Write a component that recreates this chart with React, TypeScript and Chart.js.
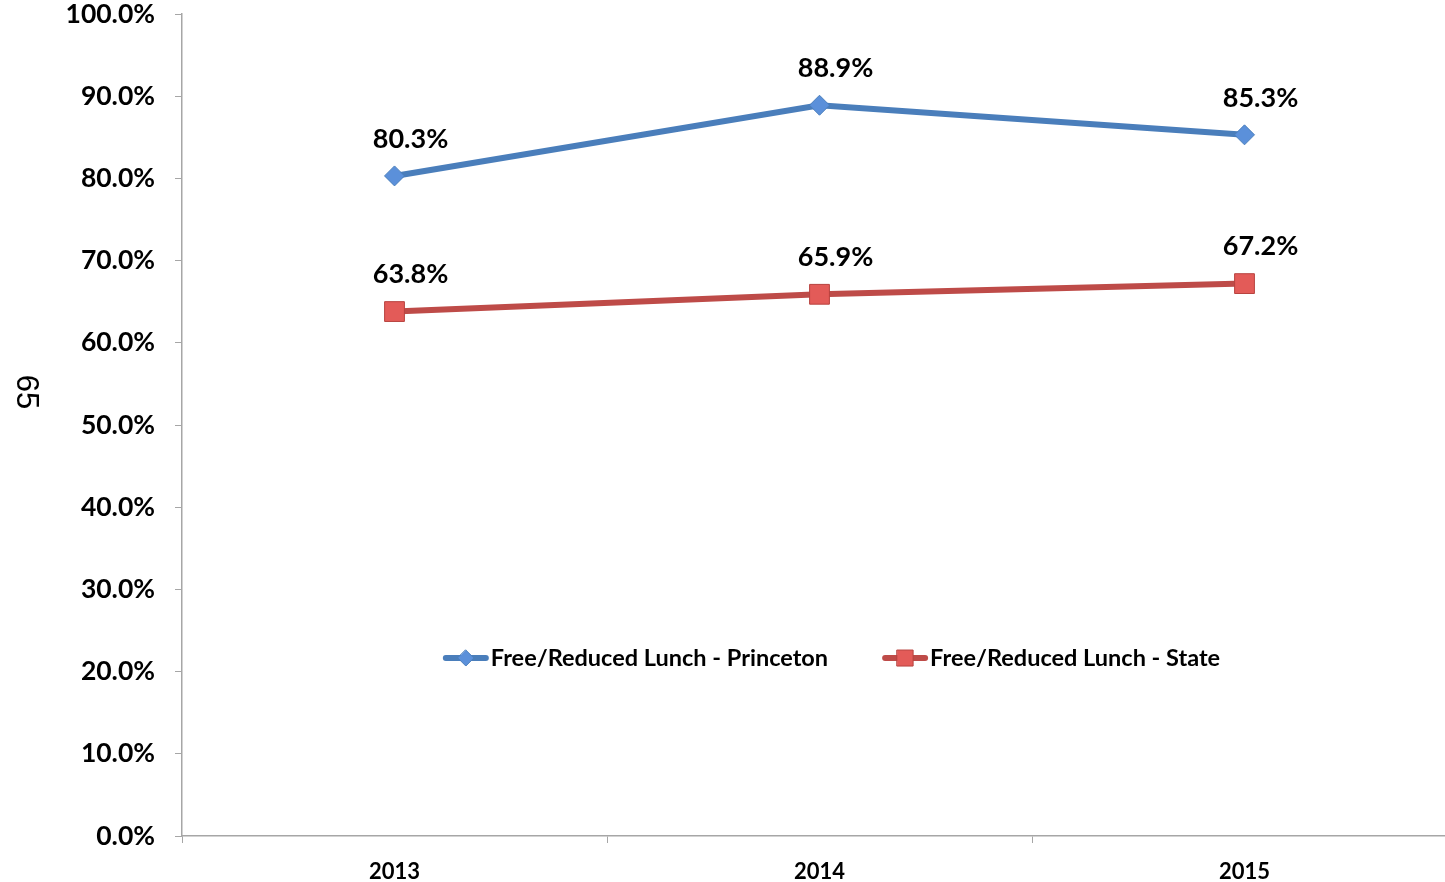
import React, { useEffect, useRef } from "react";
import { Chart, registerables } from "chart.js";

Chart.register(...registerables);

const years = ["2013", "2014", "2015"];
const princeton = [80.3, 88.9, 85.3];
const state = [63.8, 65.9, 67.2];
const seriesNames = ["Free/Reduced Lunch - Princeton", "Free/Reduced Lunch - State"];
const pageNumber = "65";

const FONT = "Lato, 'Open Sans', sans-serif";
const BLUE_LINE = "#4A7EBB";
const BLUE_FILL = "#5B90DA";
const RED_LINE = "#BE4B48";
const RED_FILL = "#E35B58";
const AXIS = "#A6A6A6";

const dataLabelPlugin = {
  id: "dataLabels",
  afterDatasetsDraw(chart: any) {
    const ctx = chart.ctx;
    ctx.save();
    ctx.font = `bold 27px ${FONT}`;
    ctx.fillStyle = "#000";
    ctx.textAlign = "center";
    ctx.textBaseline = "middle";
    chart.data.datasets.forEach((ds: any, i: number) => {
      const meta = chart.getDatasetMeta(i);
      meta.data.forEach((pt: any, j: number) => {
        ctx.fillText(ds.data[j].toFixed(1) + "%", pt.x + 16, pt.y - 37);
      });
    });
    ctx.restore();
  },
};

const legendPlugin = {
  id: "customLegend",
  afterDraw(chart: any) {
    const ctx = chart.ctx;
    const area = chart.chartArea;
    const y = chart.scales.y.getPixelForValue(21.65);
    ctx.save();
    ctx.font = `bold 23.5px ${FONT}`;
    ctx.textBaseline = "middle";
    ctx.textAlign = "left";
    const lineLen = 46;
    const gap = 2;
    const itemGap = 54;
    const widths = chart.data.datasets.map((ds: any) => ctx.measureText(ds.label).width);
    const total = widths.reduce((a: number, w: number) => a + lineLen + gap + w, 0) + itemGap * (widths.length - 1);
    let x = (area.left + area.right) / 2 + 12 - total / 2;
    chart.data.datasets.forEach((ds: any, i: number) => {
      ctx.strokeStyle = ds.borderColor;
      ctx.lineWidth = 6;
      ctx.lineCap = "round";
      ctx.beginPath();
      ctx.moveTo(x + 3, y);
      ctx.lineTo(x + lineLen - 3, y);
      ctx.stroke();
      ctx.fillStyle = ds.pointBackgroundColor;
      ctx.strokeStyle = ds.pointBorderColor;
      ctx.lineWidth = 1;
      const cx = x + lineLen / 2;
      ctx.beginPath();
      if (ds.pointStyle === "rectRot") {
        const r = 8;
        ctx.moveTo(cx, y - r);
        ctx.lineTo(cx + r, y);
        ctx.lineTo(cx, y + r);
        ctx.lineTo(cx - r, y);
        ctx.closePath();
      } else {
        const s = 8;
        ctx.rect(cx - s, y - s, 2 * s, 2 * s);
      }
      ctx.fill();
      ctx.stroke();
      ctx.fillStyle = "#000";
      ctx.fillText(ds.label, x + lineLen + gap, y);
      x += lineLen + gap + widths[i] + itemGap;
    });
    ctx.restore();
  },
};

const pageNumberPlugin = {
  id: "pageNumber",
  afterDraw(chart: any) {
    const ctx = chart.ctx;
    ctx.save();
    ctx.translate(26, 392);
    ctx.rotate(Math.PI / 2);
    ctx.font = `31px 'Liberation Sans', Arial, sans-serif`;
    ctx.fillStyle = "#000";
    ctx.textAlign = "center";
    ctx.textBaseline = "middle";
    ctx.fillText(pageNumber, 0, 0);
    ctx.restore();
  },
};

export default function App() {
  const ref = useRef<HTMLCanvasElement>(null);
  useEffect(() => {
    if (!ref.current) return;
    const chart = new Chart(ref.current, {
      type: "line",
      data: {
        labels: years,
        datasets: [
          {
            label: seriesNames[0],
            data: princeton,
            borderColor: BLUE_LINE,
            borderWidth: 6,
            pointStyle: "rectRot",
            pointRadius: 10,
            pointBackgroundColor: BLUE_FILL,
            pointBorderColor: "#4A7EBB",
            pointBorderWidth: 1,
            tension: 0,
          },
          {
            label: seriesNames[1],
            data: state,
            borderColor: RED_LINE,
            borderWidth: 6,
            pointStyle: "rect",
            pointRadius: 14,
            pointBackgroundColor: RED_FILL,
            pointBorderColor: "#B8433F",
            pointBorderWidth: 1,
            tension: 0,
          },
        ],
      } as any,
      options: {
        responsive: false,
        animation: false,
        layout: { autoPadding: false, padding: { top: 14, left: 0, right: 0, bottom: 0 } },
        plugins: { legend: { display: false }, tooltip: { enabled: false } },
        scales: {
          x: {
            type: "category",
            offset: true,
            grid: { display: true, drawOnChartArea: false, drawTicks: true, tickLength: 7, color: AXIS, offset: true },
            border: { display: true, color: AXIS, width: 1.5 },
            ticks: { color: "#000", font: { family: FONT, size: 22, weight: "bold" }, padding: 16, maxRotation: 0 },
            afterFit: (s: any) => {
              s.height = 46;
              s.paddingLeft = 0;
              s.paddingRight = 0;
            },
          },
          y: {
            min: 0,
            max: 100,
            grid: { display: true, drawOnChartArea: false, drawTicks: true, tickLength: 7, color: AXIS },
            border: { display: true, color: AXIS, width: 1.5 },
            ticks: {
              stepSize: 10,
              color: "#000",
              font: { family: FONT, size: 26.5, weight: "bold" },
              padding: 20,
              callback: (v: any) => Number(v).toFixed(1) + "%",
            },
            afterFit: (s: any) => {
              s.width = 182;
              s.paddingTop = 0;
              s.paddingBottom = 0;
            },
          },
        },
      } as any,
      plugins: [dataLabelPlugin, legendPlugin, pageNumberPlugin],
    });
    return () => chart.destroy();
  }, []);
  return (
    <div style={{ position: "fixed", left: 0, top: 0, width: 1445, height: 882, overflow: "hidden", background: "#fff" }}>
      <canvas ref={ref} width={1457} height={882} style={{ display: "block" }} />
    </div>
  );
}
